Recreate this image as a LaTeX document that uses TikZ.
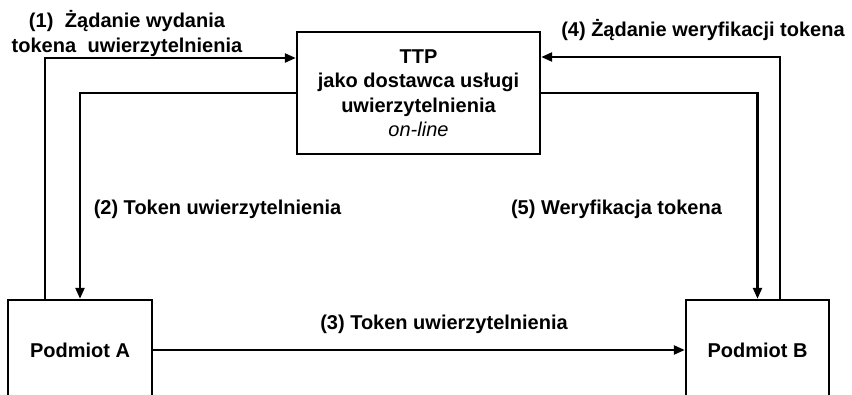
\documentclass[tikz,border=0pt]{standalone}
\usepackage{fontspec}
\setmainfont{Liberation Sans}
\usetikzlibrary{arrows.meta}
\begin{document}
\begin{tikzpicture}[x=1pt,y=-1pt,
  font=\fontsize{20}{24.5}\selectfont\bfseries,
  box/.style={draw, line width=2.4pt, inner sep=0pt},
  conn/.style={line width=2.4pt, -{Triangle[length=11pt,width=9pt]}},
  lbl/.style={inner sep=0pt, align=center}]
\useasboundingbox (0,0) rectangle (852,395);
\node[box, minimum width=243pt, minimum height=122pt, align=center] (ttp) at (418.5,93)
  {TTP\\jako dostawca usługi\\uwierzytelnienia\\{\mdseries\itshape on-line}};
\node[box, minimum width=144pt, minimum height=100pt] (pa) at (80,350) {Podmiot A};
\node[box, minimum width=143pt, minimum height=100pt] (pb) at (757.5,350) {Podmiot B};
% connectors
\draw[conn] ([xshift=-35pt]pa.north) |- ([yshift=35pt]ttp.west);
\draw[conn] (ttp.west) -| (pa.north);
\draw[conn] (pa.east) -- (pb.west);
\draw[conn] ([xshift=22.5pt]pb.north) |- ([yshift=36pt]ttp.east);
\draw[conn] (ttp.east) -| (pb.north);
% labels
\node[lbl] (l1) at (127,33.5) {(1)\hspace{0.3em} Żądanie wydania\\tokena\hspace{0.3em} uwierzytelnienia};
\node[lbl] (l2) at (217.5,209) {(2) Token uwierzytelnienia};
\node[lbl] (l3) at (444,324) {(3) Token uwierzytelnienia};
\node[lbl] (l4) at (703,30) {(4) Żądanie weryfikacji tokena};
\node[lbl] (l5) at (616.5,209) {(5) Weryfikacja tokena};
\end{tikzpicture}
\end{document}
